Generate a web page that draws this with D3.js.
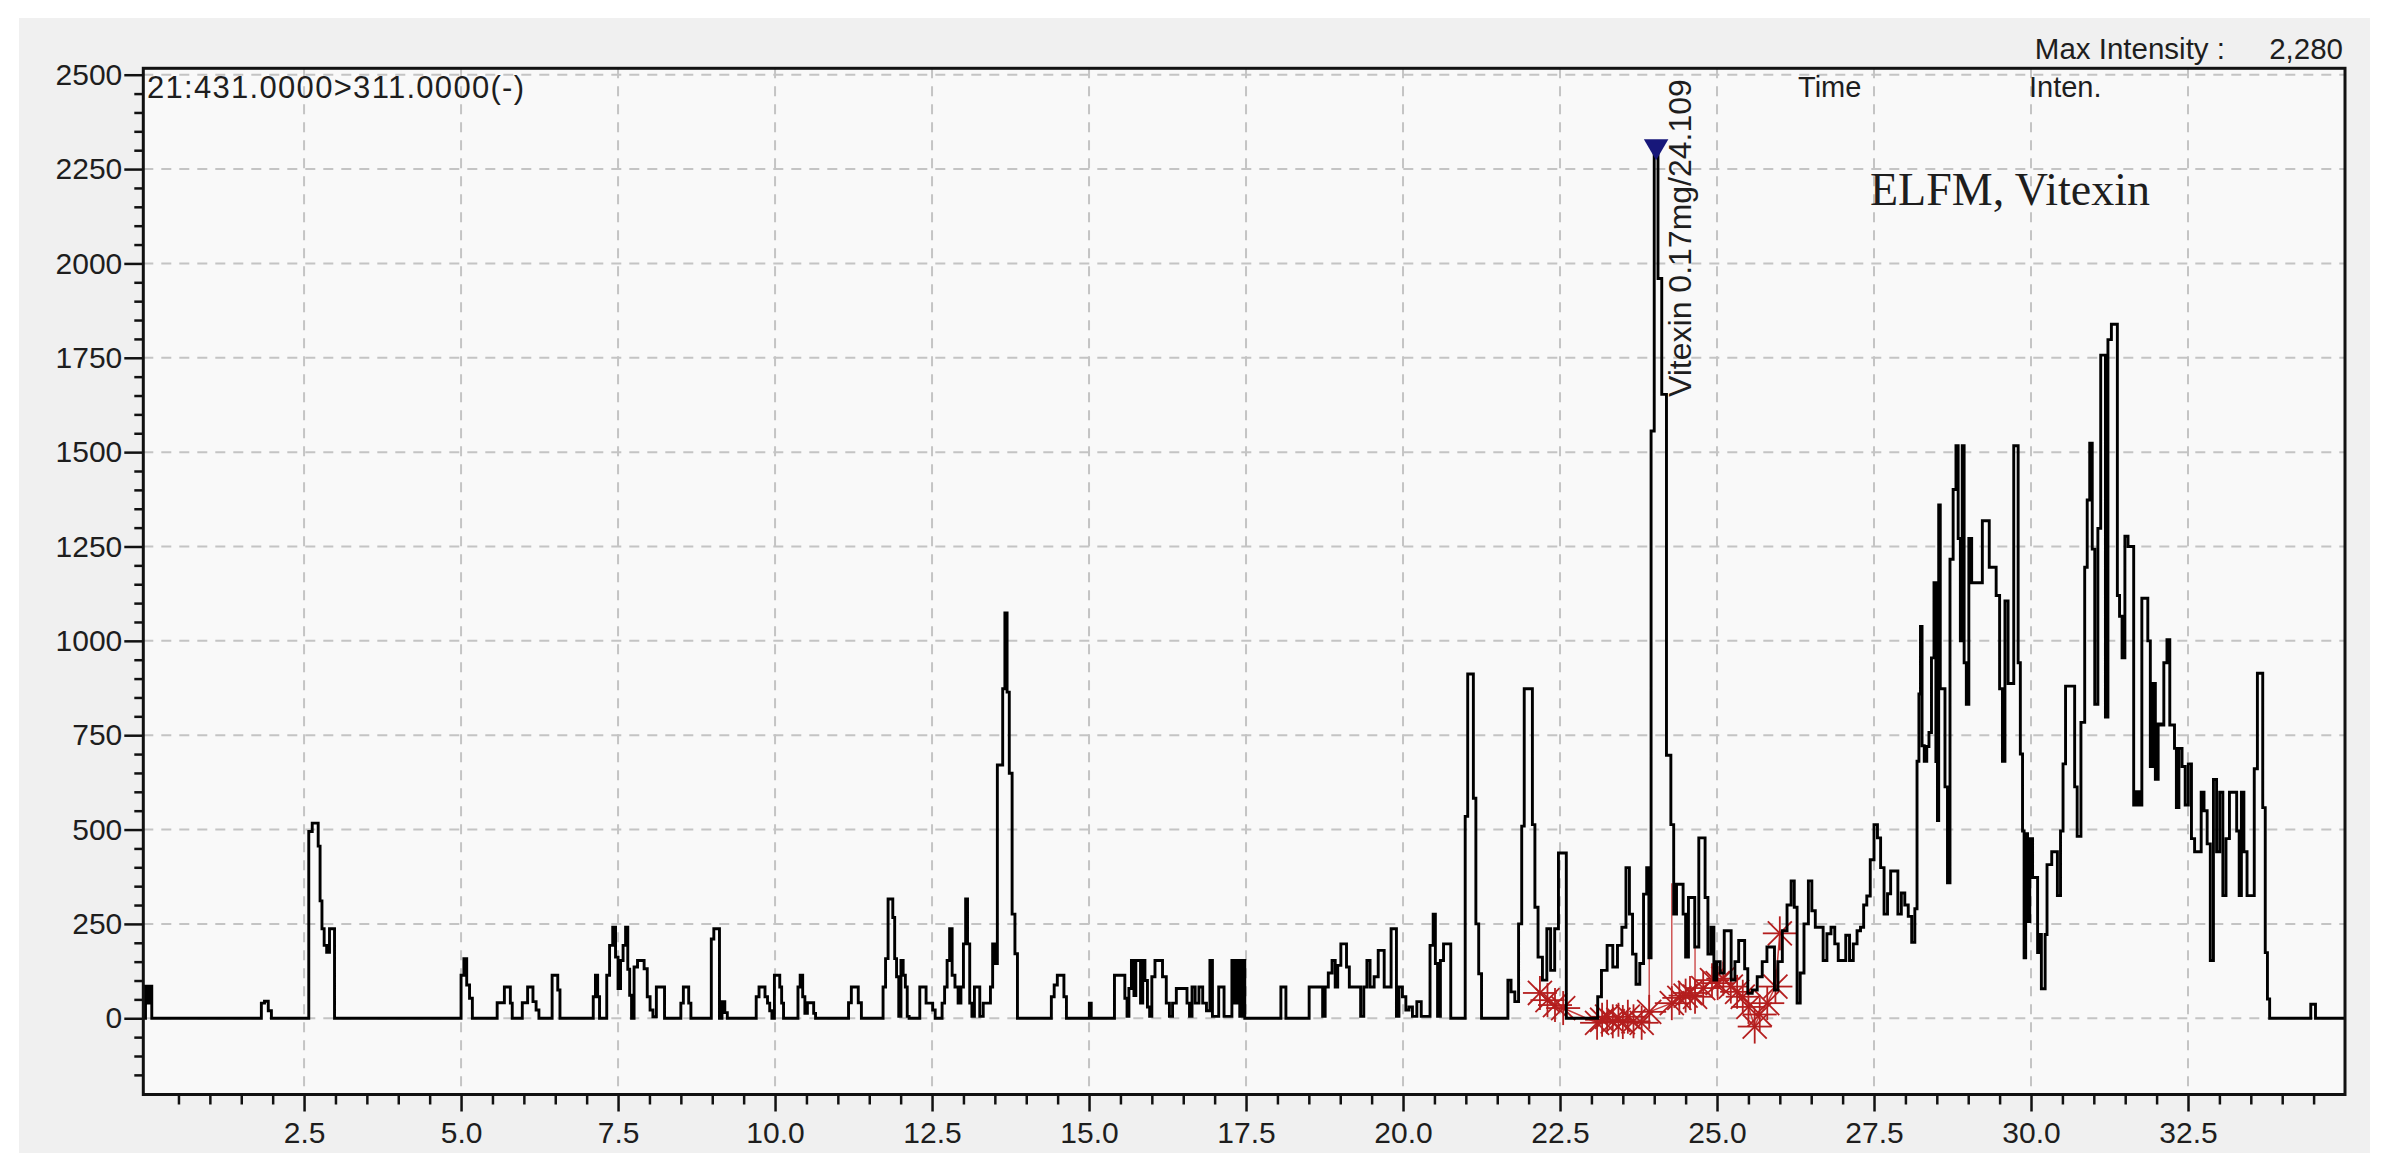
<!DOCTYPE html>
<html>
<head>
<meta charset="utf-8">
<script src="https://cdn.jsdelivr.net/npm/d3@7"></script>
<style>
  html, body { margin: 0; padding: 0; background: #ffffff; }
  svg text { font-family: "Liberation Sans", Arial, sans-serif; fill: #1e1e1e; }
</style>
</head>
<body>
<div id="chart"></div>
<script>
var width = 2387;
var height = 1165;

// retention time (min) and intensity of the MRM trace
var traceT = [-0.05,0.0,0.03,0.06,0.09, 1.8,1.84,1.9,1.96,2.0,
  2.55,2.6,2.66,2.71,2.74,2.77,2.8,2.84,2.88,2.93,2.97,3.0,
  4.98,5.02,5.07,5.11,5.16,5.2, 5.55,5.6,5.66,5.72,5.77,5.8,5.83,
  5.95,6.0,6.04,6.08,6.12,6.17,6.22,6.26, 6.43,6.47,6.52,6.56,6.59,
  7.09,7.12,7.16,7.19,7.22, 7.3,7.34,7.39,7.44,7.48,7.52,7.56,7.6,7.64,7.67,7.7,7.73,7.78,7.84,7.89,7.94,7.99,8.03,8.08,8.14,8.22,8.26,
  8.48,8.52,8.56,8.61,8.64,8.68, 8.97,9.0,9.05,9.1,9.13,9.18,9.22,9.26,
  9.68,9.72,9.77,9.82,9.86,9.9,9.93,9.97,10.01,10.06,10.09,10.12,10.15,
  10.35,10.38,10.42,10.46,10.49,10.54,10.6,10.63,10.66, 11.15,11.19,11.24,11.3,11.35,11.4,
  11.7,11.74,11.78,11.82,11.86,11.89,11.92,11.95,11.99,12.02,12.06,12.09,12.12,12.15,
  12.29,12.32,12.38,12.43,12.49,12.53,12.57,
  12.64,12.68,12.72,12.76,12.8,12.84,12.89,12.94,12.98,13.02,13.05,13.08,13.12,13.15,13.2,13.24,13.28,13.35,13.41,13.45,13.48,13.52,13.56,13.61,13.64,13.68,13.71,13.75,13.8,13.84,13.88,
  14.38,14.42,14.47,14.52,14.58,14.62,14.66, 14.99,15.02,15.05,
  15.39,15.42,15.5,15.55,15.59,15.62,15.65,15.7,15.73,15.76,15.8,15.84,15.87,15.91,15.95,15.98,16.02,16.08,16.14,16.2,16.26,16.3,
  16.36,16.42,16.48,16.54,16.58,16.62,16.66,16.72,16.78,16.84,16.9,16.95,16.98,17.04,17.09,17.13,17.17,17.25,17.3,17.34,17.38,17.42,17.46,17.5,
  18.04,18.07,18.12,18.15,
  18.49,18.52,18.6,18.7,18.74,18.78,18.84,18.9,18.94,18.98,19.04,19.08,19.12,19.17,19.24,19.3,19.35,19.4,19.45,19.5,19.58,19.63,19.68,19.72,19.78,19.84,19.88,19.91,19.96,20.02,20.07,20.12,20.18,20.26,20.32,20.4,20.46,20.5,20.53,20.57,20.62,20.67,20.74,20.78,
  20.97,21.01,21.05,21.1,21.14,21.18,21.23,21.27,
  21.65,21.69,21.75,21.81,21.87,21.91,21.95,22.04,22.08,22.12,22.18,22.26,22.32,22.38,22.45,22.5,22.58,22.62,
  23.08,23.12,23.2,23.3,23.38,23.45,23.52,23.58,23.63,23.68,23.74,23.8,23.86,23.9,23.93,23.97,24.03,24.09,24.15,24.24,24.29,24.33,24.38,24.44,24.48,24.52,24.57,24.62,24.67,24.75,24.79,24.83,24.88,24.93,24.97,
  25.02,25.08,25.15,25.2,25.25,25.32,25.37,25.42,25.46,25.52,25.6,25.68,25.76,25.83,25.89,25.94,26.0,26.08,26.15,26.21,26.25,26.3,26.35,26.42,26.49,26.53,26.6,26.66,26.72,26.78,26.85,26.9,26.96,
  27.02,27.08,27.14,27.2,27.26,27.31,27.36,27.41,27.47,27.53,27.58,27.63,27.69,27.74,27.79,27.85,27.91,27.96,28.02,28.07,28.13,28.17,28.2,28.23,28.25,28.28,28.32,28.36,28.39,28.44,28.47,28.5,28.52,28.54,28.57,28.61,28.65,28.69,28.73,28.79,28.82,28.86,28.89,28.92,28.95,28.99,
  29.03,29.08,29.14,29.2,29.25,29.31,29.36,29.42,29.47,29.53,29.56,29.61,29.66,29.71,29.74,29.78,29.81,29.85,29.88,29.9,29.93,29.96,
  30.0,30.05,30.09,30.12,30.15,30.18,30.21,30.24,30.27,30.31,30.35,30.39,30.45,30.49,30.53,30.57,30.63,30.68,30.71,30.76,30.83,30.88,30.91,30.96,30.99,
  31.04,31.09,31.13,31.17,31.2,31.25,31.31,31.36,31.39,31.43,31.47,31.52,31.57,31.61,31.66,31.7,31.74,31.79,31.84,31.88,31.92,31.96,
  32.0,32.05,32.09,32.14,32.19,32.23,32.27,32.3,32.33,32.38,32.43,32.48,32.53,32.58,32.63,32.69,32.73,32.78,32.83,32.88,32.93,32.98,
  33.03,33.08,33.13,33.19,33.25,33.3,33.33,33.37,33.41,33.47,33.53,33.58,33.63,33.67,33.71,33.75,33.78,33.82,
  34.44,34.47,34.51,34.55,35.0];

var traceI = [0,85,40,85,0, 0,40,45,20,0,
  0,495,517,517,456,311,237,193,175,237,237,0,
  0,114,158,88,53,0, 0,41,41,83,83,40,0,
  0,41,41,83,83,44,22,0, 0,114,114,75,0,
  0,57,114,57,0, 0,114,193,241,162,79,153,193,241,130,61,0,136,153,153,131,57,22,4,83,83,0,
  0,40,83,83,40,0, 0,210,237,237,0,44,15,0,
  0,57,83,83,57,40,20,0,114,114,83,40,0,
  0,83,114,57,13,41,41,13,0, 0,41,83,83,41,0,
  0,83,158,316,316,267,158,110,5,153,114,83,5,0,
  0,83,83,40,40,22,0,
  0,40,83,153,237,114,83,40,83,197,316,197,40,5,83,83,5,40,40,83,197,145,671,671,873,1074,864,649,276,171,0,
  0,57,88,114,114,57,0, 0,40,0,
  0,114,114,114,53,5,79,153,60,153,153,40,153,100,30,5,110,153,153,110,40,5,
  40,79,79,79,40,5,83,40,83,40,20,153,5,5,83,83,5,5,153,40,153,5,153,0,
  0,83,83,0,
  0,83,83,83,5,83,120,153,83,140,197,197,136,83,83,83,5,83,153,83,110,180,180,83,83,237,237,5,83,57,22,30,5,44,5,5,193,276,145,5,153,197,197,0,
  0,535,912,912,583,250,118,0,
  0,101,70,44,250,509,873,873,513,294,162,101,237,127,237,438,438,0,
  0,57,127,193,136,193,241,399,276,170,90,145,329,399,160,1556,2300,1960,1653,697,513,276,355,355,276,162,320,320,189,478,478,320,170,241,101,
  150,120,232,232,101,150,206,206,131,66,75,110,150,189,189,75,150,232,300,364,294,40,120,250,364,285,241,241,153,224,241,197,153,
  153,220,153,197,232,241,300,324,420,513,478,399,276,330,390,390,276,332,300,270,201,290,681,859,1038,722,681,720,757,955,1154,680,524,1360,873,873,613,359,1216,1401,1517,1271,1000,1517,942,832,
  1271,1154,1154,1154,1318,1318,1195,1195,1120,873,681,1106,887,887,1517,1517,942,700,496,160,489,256,
  476,373,373,174,222,78,78,222,407,407,441,441,325,496,674,880,880,880,613,482,784,1195,1373,1524,1243,
  832,1298,1757,1757,798,1798,1839,1839,1120,1065,955,1277,1250,1250,565,600,565,1113,1113,1000,667,887,
  633,780,777,942,1003,777,777,715,558,715,667,565,674,476,441,441,599,550,462,153,633,441,
  599,325,476,599,599,496,325,599,441,325,325,661,914,914,558,174,51,0,
  0,37,37,0,0];

// integration points (red asterisks)
var markT = [22.18,22.3,22.42,22.55,23.09,23.17,23.25,23.34,23.43,23.5,23.58,23.67,23.8,23.92,24.28,24.4,24.5,24.57,24.65,24.78,24.92,25.01,25.1,25.22,25.32,25.41,25.5,25.6,25.68,25.8,25.93,26.0];
var markI = [67,48,35,27,-12,-4,4,-8,-4,-10,4,-8,-12,17,40,54,60,67,57,80,101,93,105,84,70,57,30,-22,10,40,84,225];

// red drop lines from the baseline up to the trace
var dropT = [23.92, 24.28, 24.65, 25.1];
var dropTop = [160, 358, 240, 180];

var xMajor = [2.5,5.0,7.5,10.0,12.5,15.0,17.5,20.0,22.5,25.0,27.5,30.0,32.5];
var yMajor = [0,250,500,750,1000,1250,1500,1750,2000,2250,2500];

var peakTime = 24.03, peakInten = 2300;

var svg = d3.select("#chart")
    .append("svg")
    .attr("width", width)
    .attr("height", height)
    .attr("viewBox", "0 0 " + width + " " + height);

// grey window panel
svg.append("rect")
    .attr("x", 19).attr("y", 18)
    .attr("width", 2351).attr("height", 1135)
    .attr("fill", "#f0f0f0");

var plotL = 143.3, plotR = 2345, plotT = 68.3, plotB = 1094.5;

var x = d3.scaleLinear().domain([-0.06, 35.0]).range([plotL, plotR]);
var y = d3.scaleLinear().domain([-202, 2517]).range([plotB, plotT]);

svg.append("rect")
    .attr("x", plotL).attr("y", plotT)
    .attr("width", plotR - plotL).attr("height", plotB - plotT)
    .attr("fill", "#f9f9f9");

// dashed grid
var grid = svg.append("g")
    .attr("stroke", "#c4c4c4")
    .attr("stroke-width", 2)
    .attr("stroke-dasharray", "10,8");
grid.selectAll("line.v")
    .data(xMajor)
    .enter().append("line")
    .attr("x1", d => x(d)).attr("x2", d => x(d))
    .attr("y1", plotT).attr("y2", plotB);
grid.selectAll("line.h")
    .data(yMajor)
    .enter().append("line")
    .attr("x1", plotL).attr("x2", plotR)
    .attr("y1", d => y(d)).attr("y2", d => y(d));

// axes: minor ticks first, then labelled major ticks
var xMinor = d3.range(0.5, 35, 0.5).filter(d => Math.abs(d / 2.5 - Math.round(d / 2.5)) > 1e-6);
svg.append("g")
    .attr("transform", "translate(0," + plotB + ")")
    .call(d3.axisBottom(x).tickValues(xMinor).tickSize(10).tickFormat(""))
    .call(g => g.select(".domain").remove())
    .call(g => g.selectAll("line").attr("stroke", "#111").attr("stroke-width", 2.5));
svg.append("g")
    .attr("transform", "translate(0," + plotB + ")")
    .call(d3.axisBottom(x).tickValues(xMajor).tickSize(17).tickPadding(10).tickFormat(d3.format(".1f")))
    .call(g => g.select(".domain").remove())
    .call(g => g.selectAll("line").attr("stroke", "#111").attr("stroke-width", 2.5))
    .call(g => g.selectAll("text").attr("font-size", 30).attr("fill", "#222")
        .attr("font-family", "Liberation Sans, Arial, sans-serif"));

var yMinor = d3.range(-150, 2501, 50).filter(d => d % 250 !== 0);
svg.append("g")
    .attr("transform", "translate(" + plotL + ",0)")
    .call(d3.axisLeft(y).tickValues(yMinor).tickSize(9).tickFormat(""))
    .call(g => g.select(".domain").remove())
    .call(g => g.selectAll("line").attr("stroke", "#111").attr("stroke-width", 2.5));
svg.append("g")
    .attr("transform", "translate(" + plotL + ",0)")
    .call(d3.axisLeft(y).tickValues(yMajor).tickSize(19).tickPadding(2).tickFormat(d3.format("d")))
    .call(g => g.select(".domain").remove())
    .call(g => g.selectAll("line").attr("stroke", "#111").attr("stroke-width", 2.5))
    .call(g => g.selectAll("text").attr("font-size", 30).attr("fill", "#222")
        .attr("font-family", "Liberation Sans, Arial, sans-serif"));

// integration baseline, drop lines and asterisks
var marks = markT.map((t, i) => [t, markI[i]]);
svg.append("path")
    .datum(marks)
    .attr("fill", "none")
    .attr("stroke", "#c83c3c")
    .attr("stroke-width", 1.5)
    .attr("d", d3.line().x(d => x(d[0])).y(d => y(d[1])));

svg.append("g")
    .selectAll("line")
    .data(dropT)
    .enter().append("line")
    .attr("x1", d => x(d)).attr("x2", d => x(d))
    .attr("y1", (d, i) => y(markI[markT.indexOf(d)]))
    .attr("y2", (d, i) => y(dropTop[i]))
    .attr("stroke", "#c83c3c")
    .attr("stroke-width", 1.3);

var star = svg.append("g")
    .selectAll("g")
    .data(marks)
    .enter().append("g")
    .attr("transform", d => "translate(" + x(d[0]) + "," + y(d[1]) + ")");
d3.range(8).forEach(function (k) {
    var a = k * Math.PI / 4;
    star.append("line")
        .attr("x1", 0).attr("y1", 0)
        .attr("x2", 17 * Math.cos(a)).attr("y2", 17 * Math.sin(a))
        .attr("stroke", "#b41e1e")
        .attr("stroke-width", 1.8);
});

// chromatogram trace
var trace = traceT.map((t, i) => [t, traceI[i]]);
svg.append("path")
    .datum(trace)
    .attr("fill", "none")
    .attr("stroke", "#000")
    .attr("stroke-width", 2.9)
    .attr("stroke-linejoin", "miter")
    .attr("d", d3.line().curve(d3.curveStep).x(d => x(d[0])).y(d => y(d[1])));

// frame
svg.append("rect")
    .attr("x", plotL).attr("y", plotT)
    .attr("width", plotR - plotL).attr("height", plotB - plotT)
    .attr("fill", "none")
    .attr("stroke", "#111")
    .attr("stroke-width", 3);

// peak marker and label
svg.append("path")
    .attr("d", d3.symbol().type(d3.symbolTriangle).size(260))
    .attr("transform", "translate(" + x(peakTime) + "," + (y(peakInten) - 4) + ") rotate(180)")
    .attr("fill", "#17177a");
svg.append("text")
    .attr("transform", "translate(" + (x(peakTime) + 35) + "," + 397 + ") rotate(-90)")
    .attr("font-size", 32)
    .text("Vitexin 0.17mg/24.109");

// header texts
svg.append("text").attr("x", 147).attr("y", 98).attr("font-size", 31)
    .attr("letter-spacing", 1.3)
    .text("21:431.0000>311.0000(-)");
svg.append("text").attr("x", 1798).attr("y", 97).attr("font-size", 29).text("Time");
svg.append("text").attr("x", 2029).attr("y", 97).attr("font-size", 29).text("Inten.");
svg.append("text").attr("x", 2225).attr("y", 59).attr("font-size", 29.5)
    .attr("text-anchor", "end")
    .text("Max Intensity :");
svg.append("text").attr("x", 2343).attr("y", 59).attr("font-size", 29.5)
    .attr("text-anchor", "end")
    .text("2,280");
svg.append("text").attr("x", 1870).attr("y", 205)
    .attr("font-size", 46)
    .style("font-family", "'Liberation Serif', 'Times New Roman', serif")
    .text("ELFM, Vitexin");
</script>
</body>
</html>
